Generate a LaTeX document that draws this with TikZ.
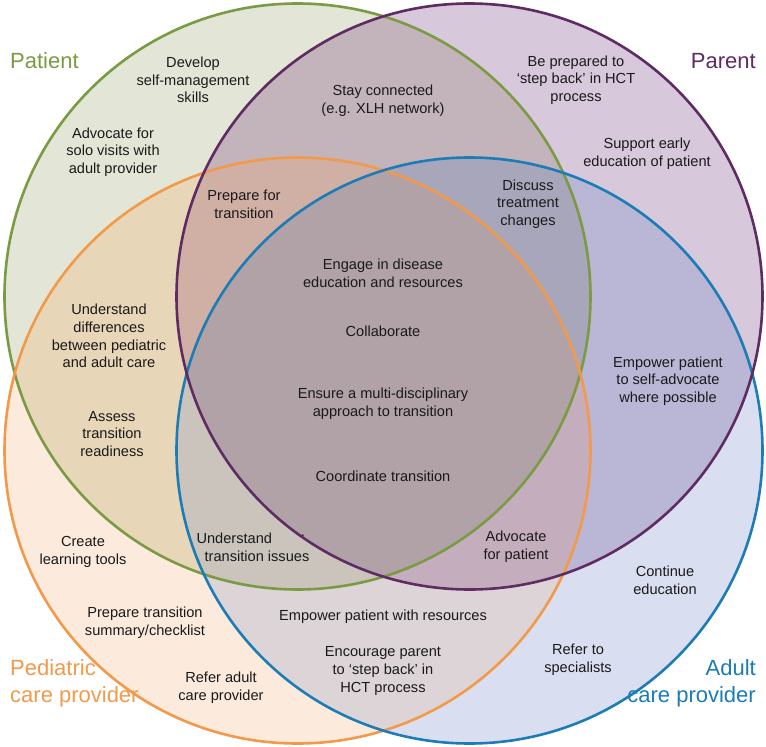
\documentclass[tikz,border=0pt]{standalone}
\usepackage{fontspec}
\setmainfont{Liberation Sans}
\definecolor{lG}{HTML}{7A9A44}
\definecolor{lP}{HTML}{5E2B63}
\definecolor{lO}{HTML}{F29A4A}
\definecolor{lB}{HTML}{1B7CB6}
\definecolor{fG}{HTML}{E3E6D6}
\definecolor{fP}{HTML}{D8C8DC}
\definecolor{fO}{HTML}{FCEADC}
\definecolor{fB}{HTML}{D9DFF0}
\definecolor{fGO}{HTML}{E8D6B8}
\definecolor{fPB}{HTML}{B9B6D6}
\definecolor{fOB}{HTML}{DDD4D7}
\definecolor{fGP}{HTML}{C3B4BB}
\definecolor{fGB}{HTML}{C8C8D0}
\definecolor{fPO}{HTML}{D0B8C0}
\definecolor{fGPO}{HTML}{D0AFA5}
\definecolor{fGPB}{HTML}{A8A6BA}
\definecolor{fGOB}{HTML}{CAC4BD}
\definecolor{fPOB}{HTML}{C4AEBD}
\definecolor{fAll}{HTML}{B0A2A7}
\definecolor{txt}{HTML}{1A1A1A}
\begin{document}
\begin{tikzpicture}[x=1pt,y=-1pt,
  lbl/.style={align=center,inner sep=0pt,text=txt,font=\fontsize{14.6}{17.6}\selectfont},
  ttl/.style={inner sep=0pt,font=\fontsize{22}{27}\selectfont},
  ring/.style={line width=2.6pt}]
\useasboundingbox (0,0) rectangle (766,747);
\fill[white] (0,0) rectangle (766,747);
\coordinate (G) at (297.5,296.5);
\coordinate (P) at (469.5,296.5);
\coordinate (O) at (297.5,450.5);
\coordinate (B) at (469.5,450.5);
\def\R{293pt}
% singles
\fill[fG] (G) circle[radius=\R];
\fill[fP] (P) circle[radius=\R];
\fill[fO] (O) circle[radius=\R];
\fill[fB] (B) circle[radius=\R];
% pairs
\begin{scope}\clip (G) circle[radius=\R]; \fill[fGP] (P) circle[radius=\R];\end{scope}
\begin{scope}\clip (G) circle[radius=\R]; \fill[fGO] (O) circle[radius=\R];\end{scope}
\begin{scope}\clip (G) circle[radius=\R]; \fill[fGB] (B) circle[radius=\R];\end{scope}
\begin{scope}\clip (P) circle[radius=\R]; \fill[fPO] (O) circle[radius=\R];\end{scope}
\begin{scope}\clip (P) circle[radius=\R]; \fill[fPB] (B) circle[radius=\R];\end{scope}
\begin{scope}\clip (O) circle[radius=\R]; \fill[fOB] (B) circle[radius=\R];\end{scope}
% triples
\begin{scope}\clip (G) circle[radius=\R]; \clip (P) circle[radius=\R]; \fill[fGPO] (O) circle[radius=\R];\end{scope}
\begin{scope}\clip (G) circle[radius=\R]; \clip (P) circle[radius=\R]; \fill[fGPB] (B) circle[radius=\R];\end{scope}
\begin{scope}\clip (G) circle[radius=\R]; \clip (O) circle[radius=\R]; \fill[fGOB] (B) circle[radius=\R];\end{scope}
\begin{scope}\clip (P) circle[radius=\R]; \clip (O) circle[radius=\R]; \fill[fPOB] (B) circle[radius=\R];\end{scope}
% all
\begin{scope}\clip (G) circle[radius=\R]; \clip (P) circle[radius=\R]; \clip (O) circle[radius=\R]; \fill[fAll] (B) circle[radius=\R];\end{scope}
% outlines
\draw[ring,lG] (G) circle[radius=\R];
\draw[ring,lO] (O) circle[radius=\R];
\draw[ring,lB] (B) circle[radius=\R];
\draw[ring,lP] (P) circle[radius=\R];
% titles
\node[ttl,text=lG,anchor=base west] (tPat) at (10,68) {Patient};
\node[ttl,text=lP,anchor=base east] (tPar) at (756,68) {Parent};
\node[ttl,text=lO,anchor=base west,align=left] (tPed) at (10,702) {Pediatric\\care provider};
\node[ttl,text=lB,anchor=base east,align=right] (tAdu) at (756,702) {Adult\\care provider};
% labels
\node[lbl] (n1) at (193,80) {Develop\\self-management\\skills};
\node[lbl] (n2) at (113,152) {Advocate for\\solo visits with\\adult provider};
\node[lbl] (n3) at (383,101) {Stay connected\\(e.g. XLH network)};
\node[lbl] (n4) at (576,80) {Be prepared to\\‘step back’ in HCT\\process};
\node[lbl] (n5) at (647,154) {Support early\\education of patient};
\node[lbl] (n6) at (244,204.5) {Prepare for\\transition};
\node[lbl] (n7) at (528,204) {Discuss\\treatment\\changes};
\node[lbl] (n8) at (383,273) {Engage in disease\\education and resources};
\node[lbl] (n9) at (383,331) {Collaborate};
\node[lbl] (n10) at (109,336) {Understand\\differences\\between pediatric\\and adult care};
\node[lbl] (n11) at (668,381) {Empower patient\\to self-advocate\\where possible};
\node[lbl] (n12) at (383,404) {Ensure a multi-disciplinary\\approach to transition};
\node[lbl] (n13) at (112,434) {Assess\\transition\\readiness};
\node[lbl] (n14) at (383,476) {Coordinate transition};
\node[lbl] (n15) at (83,552) {Create\\learning tools};
\node[lbl] (n16) at (257,547) {Understand\phantom{ issues}\\transition issues};
\node[lbl] (n16b) at (303,536) {.};
\node[lbl] (n17) at (516,547) {Advocate\\for patient};
\node[lbl] (n18) at (665,580) {Continue\\education};
\node[lbl] (n19) at (145,623) {Prepare transition\\summary/checklist};
\node[lbl] (n20) at (383,617) {Empower patient with resources};
\node[lbl] (n21) at (383,671) {Encourage parent\\to ‘step back’ in\\HCT process};
\node[lbl] (n22) at (221,688) {Refer adult\\care provider};
\node[lbl] (n23) at (578,660) {Refer to\\specialists};
\end{tikzpicture}
\end{document}
